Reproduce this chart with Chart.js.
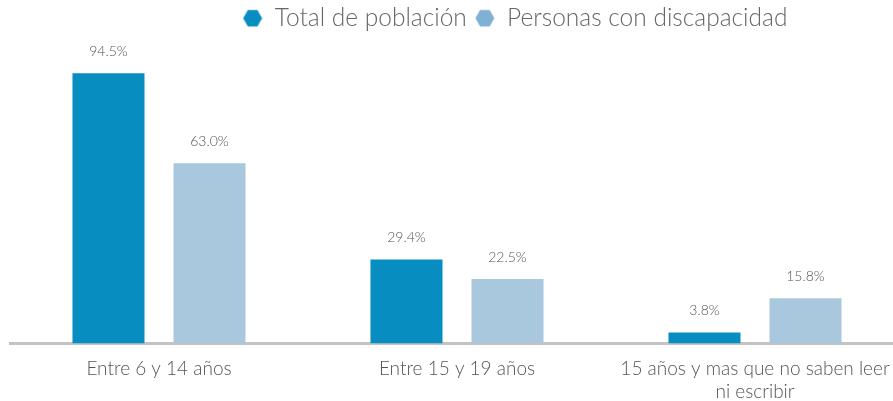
<!DOCTYPE html>
<html>
<head>
<meta charset="utf-8">
<script src="https://cdn.jsdelivr.net/npm/chart.js@4"></script>
<style>
  html, body { margin: 0; padding: 0; background: #fff; overflow: hidden; }
  #wrap { width: 1020px; height: 401px; position: relative; }
</style>
</head>
<body>
<div id="wrap"><canvas id="graph"></canvas></div>
<script>
// données
var categories = [
    'Entre 6 y 14 años',
    'Entre 15 y 19 años',
    ['15 años y mas que no saben leer', 'ni escribir']
];
var totalPoblacion = [94.5, 29.4, 3.8];
var personasDiscapacidad = [63.0, 22.5, 15.8];
var seriesNames = ['Total de población', 'Personas con discapacidad'];

// hexagone pour la légende
function hexagon(color) {
    var c = document.createElement('canvas');
    c.width = 20; c.height = 20;
    var ctx = c.getContext('2d');
    ctx.fillStyle = color;
    ctx.beginPath();
    for (let i = 0; i < 6; i++) {
        let a = Math.PI / 3 * i;
        let x = 10 + 9.5 * Math.cos(a);
        let y = 10 + 9.5 * Math.sin(a);
        if (i == 0) ctx.moveTo(x, y); else ctx.lineTo(x, y);
    }
    ctx.closePath();
    ctx.fill();
    return c;
}

// étiquettes au-dessus des barres
var valueLabels = {
    id: 'valueLabels',
    afterDatasetsDraw(chart) {
        var ctx = chart.ctx;
        ctx.save();
        ctx.font = '300 14px Lato';
        ctx.fillStyle = '#555';
        ctx.textAlign = 'center';
        ctx.textBaseline = 'middle';
        chart.data.datasets.forEach(function (ds, i) {
            chart.getDatasetMeta(i).data.forEach(function (bar, j) {
                ctx.fillText(ds.data[j].toFixed(1) + '%', bar.x, bar.y - 22);
            });
        });
        ctx.restore();
    }
};

var graph = new Chart(document.getElementById('graph'), {
    type: 'bar',
    data: {
        labels: categories,
        datasets: [{
            label: seriesNames[0],
            data: totalPoblacion,
            backgroundColor: '#078DC0',
            pointStyle: hexagon('#0B8CC1'),
            barPercentage: 0.713,
            categoryPercentage: 0.678
        }, {
            label: seriesNames[1],
            data: personasDiscapacidad,
            backgroundColor: '#A9C8DE',
            pointStyle: hexagon('#7FB2D2'),
            barPercentage: 0.713,
            categoryPercentage: 0.678
        }]
    },
    options: {
        responsive: true,
        maintainAspectRatio: false,
        animation: false,
        layout: { padding: { left: 10, right: 0, top: -2, bottom: -16 } },
        plugins: {
            legend: {
                position: 'top',
                labels: {
                    usePointStyle: true,
                    boxWidth: 20,
                    boxHeight: 20,
                    padding: 8,
                    color: '#666',
                    font: { family: 'Lato', size: 24.5, weight: '300' }
                }
            },
            tooltip: { enabled: false }
        },
        scales: {
            x: {
                grid: { display: false, drawTicks: false },
                border: { color: '#C4C4C4', width: 3 },
                ticks: {
                    color: '#555',
                    padding: 14,
                    maxRotation: 0,
                    autoSkip: false,
                    font: { family: 'Lato', size: 19, weight: '300', lineHeight: 1.2 }
                }
            },
            y: {
                position: 'right',
                min: 0,
                max: 106,
                grid: { display: false },
                border: { display: false },
                ticks: { display: false },
                afterFit: function (scale) { scale.width = 116; }
            }
        }
    },
    plugins: [valueLabels]
});
</script>
</body>
</html>
